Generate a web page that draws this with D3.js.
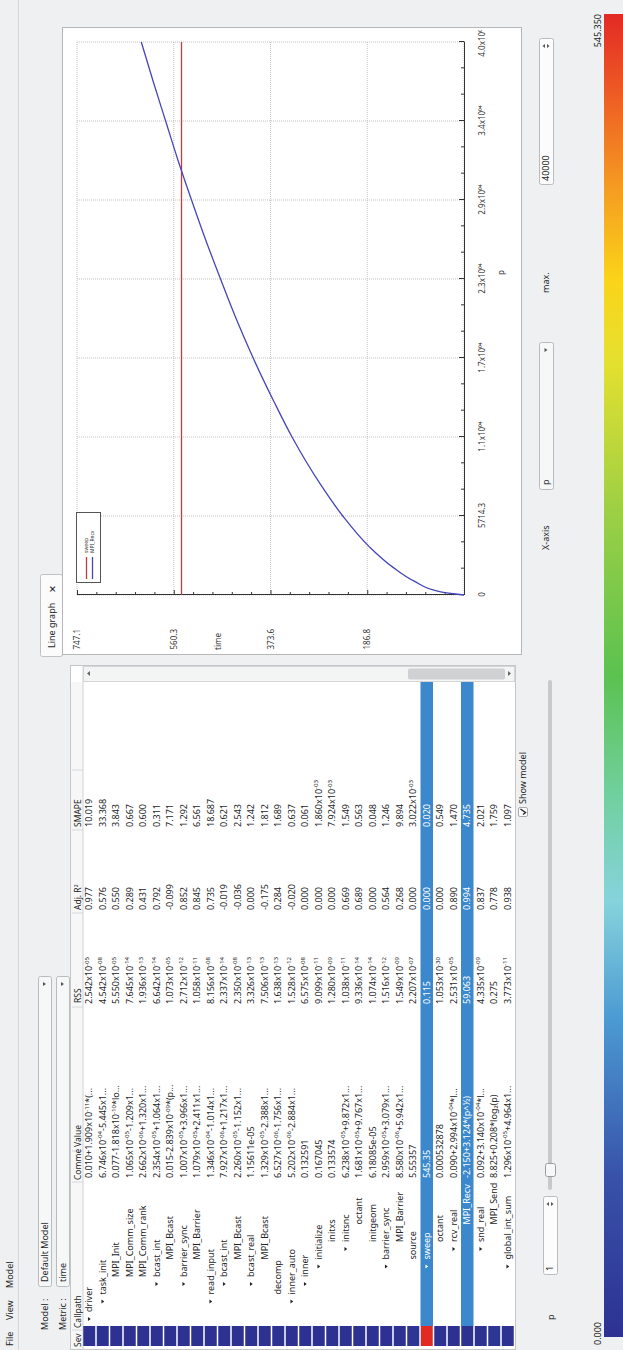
<!DOCTYPE html>
<html>
<head>
<meta charset="utf-8">
<title>Extra-P</title>
<script src="https://cdn.jsdelivr.net/npm/d3@7"></script>
<style>
  body { margin: 0; background: #eff0f1; }
  svg { display: block; font-family: "Noto Sans", "DejaVu Sans", sans-serif; }
</style>
</head>
<body>
<svg id="screen" width="623" height="1350"></svg>
<script>
// call tree in the table
const callpaths = ['driver', 'task_init', 'MPI_Init', 'MPI_Comm_size', 'MPI_Comm_rank', 'bcast_int', 'MPI_Bcast',
  'barrier_sync', 'MPI_Barrier', 'read_input', 'bcast_int', 'MPI_Bcast', 'bcast_real', 'MPI_Bcast', 'decomp',
  'inner_auto', 'inner', 'initialize', 'initxs', 'initsnc', 'octant', 'initgeom', 'barrier_sync', 'MPI_Barrier',
  'source', 'sweep', 'octant', 'rcv_real', 'MPI_Recv', 'snd_real', 'MPI_Send', 'global_int_sum'];
const depths = [0, 1, 2, 2, 2, 2, 3, 2, 3, 1, 2, 3, 2, 3, 1, 1, 2, 3, 4, 4, 5, 4, 3, 4, 3, 3, 4, 4, 5, 4, 5, 3];
const modelValues = ['0.010+1.909x10⁻¹¹*(...', '6.746x10⁻⁰⁴-5.445x1...', '0.077-1.818x10⁻¹⁰*lo...',
  '1.065x10⁻⁰⁵-1.209x1...', '2.662x10⁻⁰⁶+1.320x1...', '2.354x10⁻⁰⁵+1.064x1...', '0.015-2.839x10⁻⁰⁹*(p...',
  '1.007x10⁻⁰⁵+3.966x1...', '1.079x10⁻⁰⁵+2.411x1...', '1.346x10⁻⁰⁴-1.014x1...', '7.927x10⁻⁰⁶+1.217x1...',
  '2.260x10⁻⁰⁵-1.152x1...', '1.15611e-05', '1.329x10⁻⁰⁵-2.388x1...', '6.527x10⁻⁰⁶-1.756x1...',
  '5.202x10⁻⁰⁶-2.884x1...', '0.132591', '0.167045', '0.133574', '6.238x10⁻⁰⁵+9.872x1...',
  '1.681x10⁻⁰⁵+9.767x1...', '6.18085e-05', '2.959x10⁻⁰⁵+3.079x1...', '8.580x10⁻⁰⁶+5.942x1...', '5.55357',
  '545.35', '0.000532878', '0.090+2.994x10⁻⁰⁴*l...', '-2.150+3.124*(p^½)', '0.092+3.140x10⁻⁰⁴*l...',
  '8.825+0.208*log₂(p)', '1.296x10⁻⁰⁵+4.964x1...'];
const rssValues = ['2.542x10⁻⁰⁵', '4.542x10⁻⁰⁸', '5.550x10⁻⁰⁵', '7.645x10⁻¹⁴', '1.936x10⁻¹³', '6.642x10⁻¹⁴',
  '1.073x10⁻⁰⁵', '2.712x10⁻¹²', '1.058x10⁻¹¹', '8.156x10⁻⁰⁸', '2.337x10⁻¹⁴', '2.350x10⁻⁰⁸', '3.326x10⁻¹³',
  '7.506x10⁻¹³', '1.638x10⁻¹³', '1.528x10⁻¹²', '6.575x10⁻⁰⁸', '9.099x10⁻¹¹', '1.280x10⁻⁰⁹', '1.038x10⁻¹¹',
  '9.336x10⁻¹⁴', '1.074x10⁻¹⁴', '1.516x10⁻¹²', '1.549x10⁻⁰⁹', '2.207x10⁻⁰⁷', '0.115', '1.053x10⁻³⁰',
  '2.531x10⁻⁰⁵', '59.063', '4.335x10⁻⁰⁹', '0.275', '3.773x10⁻¹¹'];
const adjR2Values = ['0.977', '0.576', '0.550', '0.289', '0.431', '0.792', '-0.099', '0.852', '0.845', '0.735',
  '-0.019', '-0.036', '0.000', '-0.175', '0.284', '-0.020', '0.000', '0.000', '0.000', '0.669', '0.689', '0.000',
  '0.564', '0.268', '0.000', '0.000', '0.000', '0.890', '0.994', '0.837', '0.778', '0.938'];
const smapeValues = ['10.019', '33.368', '3.843', '0.667', '0.600', '0.311', '7.171', '1.292', '6.561', '18.687',
  '0.621', '2.543', '1.242', '1.812', '1.689', '0.637', '0.061', '1.860x10⁻⁰³', '7.924x10⁻⁰³', '1.549', '0.563',
  '0.048', '1.246', '9.894', '3.022x10⁻⁰³', '0.020', '0.549', '1.470', '4.735', '2.021', '1.759', '1.097'];
const severity = [0.01, 0, 0.08, 0, 0, 0, 0.02, 0, 0, 0, 0, 0, 0, 0, 0, 0, 0.13, 0.17, 0.13, 0, 0, 0, 0, 0,
  5.55, 545.35, 0, 0.09, 1.0, 0.09, 8.8, 0];
const selectedRows = [25, 28];
const headers = ['Sev', 'Callpath', 'Comme', 'Value', 'RSS', 'Adj. R²', 'SMAPE'];

// line graph
const xTickValues = [0, 5714.3, 11428.6, 17142.9, 22857.1, 28571.4, 34285.7, 40000];
const xTickLabels = ['0', '5714.3', '1.1x10⁰⁴', '1.7x10⁰⁴', '2.3x10⁰⁴', '2.9x10⁰⁴', '3.4x10⁰⁴', '4.0x10⁰⁴'];
const yTickValues = [0, 186.8, 373.6, 560.3, 747.1];
const yTickLabels = ['', '186.8', '373.6', '560.3', '747.1'];
const sweepTime = 545.35;
const recvP = [0, 250, 1000, 2000, 3500, 5714, 8000, 11429, 14000, 17143, 20000, 22857, 25714, 28571, 31429,
  34286, 37143, 40000];
const recvTime = [0, 47, 96, 137, 183, 234, 277, 332, 367, 407, 440, 470, 499, 526, 552, 576, 600, 623];
const seriesNames = ['sweep', 'MPI_Recv'];
const colorbarRange = [0.000, 545.350];

const W = 1350, H = 623;   // the screen before it was turned on its side
const svg = d3.select('#screen');
const defs = svg.append('defs');
const root = svg.append('g').attr('transform', 'translate(0,' + W + ') rotate(-90)');
const ink = '#232627';

root.append('rect').attr('width', W).attr('height', H).attr('fill', '#eff0f1');

function label(g, x, y, txt, opts = {}) {
  return g.append('text')
      .attr('x', x).attr('y', y)
      .attr('font-size', opts.size || 9)
      .attr('fill', opts.fill || ink)
      .attr('text-anchor', opts.anchor || 'start')
      .text(txt);
}

// table cells: exponents are drawn as raised small digits, like Qt rich text
const SUP = '⁰¹²³⁴⁵⁶⁷⁸⁹⁻';
function cell(g, x, y, txt, size, fill) {
  const t = g.append('text').attr('x', x).attr('y', y).attr('font-size', size).attr('fill', fill);
  const parts = txt.match(/[⁰¹²³⁴⁵⁶⁷⁸⁹⁻]+|[^⁰¹²³⁴⁵⁶⁷⁸⁹⁻]+/g);
  let raised = false;
  parts.forEach(p => {
    const span = t.append('tspan');
    if (SUP.includes(p[0])) {
      span.attr('font-size', size * 0.68).attr('dy', -size * 0.38)
          .text([...p].map(c => c === '⁻' ? '-' : String(SUP.indexOf(c))).join(''));
      raised = true;
    } else {
      if (raised) span.attr('dy', size * 0.38);
      raised = false;
      span.text(p);
    }
  });
  return t;
}

function combo(x, y, w, h, txt) {
  root.append('rect').attr('x', x + 0.5).attr('y', y + 0.5).attr('width', w).attr('height', h)
      .attr('rx', 2).attr('fill', '#f6f7f7').attr('stroke', '#b9bcbe');
  label(root, x + 5, y + h / 2 + 3.2, txt);
  root.append('path')
      .attr('d', `M${x + w - 9},${y + h / 2 - 1.5}l4,0l-2,3z`)
      .attr('fill', '#555');
}

function spin(x, y, w, h, txt) {
  root.append('rect').attr('x', x + 0.5).attr('y', y + 0.5).attr('width', w).attr('height', h)
      .attr('rx', 2).attr('fill', '#fcfcfc').attr('stroke', '#b9bcbe');
  label(root, x + 4, y + h / 2 + 3.2, txt);
  const ax = x + w - 7;
  root.append('path').attr('d', `M${ax - 2},${y + h / 2 - 1}l2,-2.5l2,2.5z M${ax - 2},${y + h / 2 + 1}l2,2.5l2,-2.5z`)
      .attr('fill', '#555');
}

// menu bar
root.append('line').attr('x1', 0).attr('x2', W).attr('y1', 18.5).attr('y2', 18.5).attr('stroke', '#d6d8da');
label(root, 4, 13, 'File');
label(root, 30, 13, 'View');
label(root, 62, 13, 'Model');

// model / metric selectors
label(root, 20, 48, 'Model :');
combo(63, 38, 310, 13, 'Default Model');
label(root, 20, 66, 'Metric :');
combo(63, 56, 310, 13, 'time');

// table
const table = root.append('g');
table.append('rect').attr('x', 0.5).attr('y', 70.5).attr('width', 684).attr('height', 445)
    .attr('fill', '#fff').attr('stroke', '#c4c6c8');
table.append('rect').attr('x', 1).attr('y', 71).attr('width', 667).attr('height', 12).attr('fill', '#f7f7f7');
table.append('line').attr('x1', 1).attr('x2', 684).attr('y1', 83).attr('y2', 83).attr('stroke', '#d0d2d4');
const headerX = [3, 22, 170, 203, 347, 440, 523];
const sepX = [20, 168, 199, 343, 437, 520, 580];
sepX.forEach(x => table.append('line').attr('x1', x).attr('x2', x).attr('y1', 72).attr('y2', 83)
    .attr('stroke', '#d6d8da'));
headers.forEach((h, i) => label(table, headerX[i], 80.5, h, {size: 8.5}));

// the callpath column cuts long names at its right edge
defs.append('clipPath').attr('id', 'pathcol').append('rect')
    .attr('x', 0).attr('y', 0).attr('width', 168).attr('height', 14);

const rowY = d3.scaleBand().domain(d3.range(callpaths.length)).range([82.5, 82.5 + 13.5 * callpaths.length]);
const sevColor = d3.scaleLinear()
    .domain([0, 0.12, 0.24, 0.33, 0.41, 0.5, 0.62, 0.74, 0.8, 0.87, 0.94, 1].map(t => t * colorbarRange[1]))
    .range(['#2d3292', '#3851a9', '#4b9ad3', '#86d3dc', '#70d09e', '#5bc250', '#9acf45', '#e6e02e', '#fbd319',
      '#f59a22', '#ee5b24', '#e22a25']);

const rows = table.selectAll('g.row')
    .data(callpaths)
    .enter()
    .append('g')
    .attr('class', 'row')
    .attr('transform', (d, i) => 'translate(0,' + rowY(i) + ')');

rows.filter((d, i) => selectedRows.includes(i))
    .append('rect').attr('x', 24).attr('y', 0.5).attr('width', 644).attr('height', rowY.bandwidth() - 1)
    .attr('fill', '#3b88cc');
rows.append('rect')
    .attr('x', 4).attr('y', 0.75).attr('width', 20).attr('height', rowY.bandwidth() - 1.5)
    .attr('fill', (d, i) => sevColor(severity[i]));

const textX = i => 38 + 17.5 * depths[i];
const hasKids = i => i === callpaths.length - 1 || depths[i + 1] > depths[i];
const rowInk = i => selectedRows.includes(i) ? '#fff' : ink;
const fs = 9;

rows.each(function (d, i) {
  const g = d3.select(this);
  const cy = rowY.bandwidth() / 2;
  if (hasKids(i)) {
    g.append('path').attr('d', `M${textX(i) - 9},${cy - 1.3}l4,0l-2,2.8z`).attr('fill', rowInk(i));
  }
  label(g, textX(i), 9.8, d, {size: fs, fill: rowInk(i)}).attr('clip-path', 'url(#pathcol)');
  cell(g, 172, 9.8, modelValues[i], fs, rowInk(i));
  cell(g, 346, 9.8, rssValues[i], fs, rowInk(i));
  cell(g, 440, 9.8, adjR2Values[i], fs, rowInk(i));
  cell(g, 523, 9.8, smapeValues[i], fs, rowInk(i));
});

// vertical scrollbar of the table
table.append('rect').attr('x', 668.5).attr('y', 83.5).attr('width', 15).attr('height', 431)
    .attr('fill', '#f3f4f4').attr('stroke', '#d3d5d7');
table.append('rect').attr('x', 670.5).attr('y', 408).attr('width', 11).attr('height', 97)
    .attr('rx', 2).attr('fill', '#cfd1d3');
table.append('path').attr('d', 'M674,90l2.5,-3l2.5,3z M674,508l2.5,3l2.5,-3z').attr('fill', '#666');

// show model check box
root.append('rect').attr('x', 533.5).attr('y', 518.5).attr('width', 9).attr('height', 9).attr('rx', 1.5)
    .attr('fill', '#fcfcfc').attr('stroke', '#aaa');
root.append('path').attr('d', 'M535.5,523l2,2.5l3.5,-5').attr('fill', 'none').attr('stroke', ink).attr('stroke-width', 1.4);
label(root, 546, 526, 'Show model');

// p slider
label(root, 30, 554, 'p');
spin(75, 543, 78, 14, '1');
root.append('rect').attr('x', 160).attr('y', 548).attr('width', 510).attr('height', 4).attr('rx', 2)
    .attr('fill', '#c7c9cb');
root.append('rect').attr('x', 173.5).attr('y', 545.5).attr('width', 13).attr('height', 10).attr('rx', 2)
    .attr('fill', '#f8f8f8').attr('stroke', '#9a9c9e');

// colour bar
const grad = defs.append('linearGradient').attr('id', 'sevbar');
grad.selectAll('stop')
    .data(sevColor.domain())
    .enter()
    .append('stop')
    .attr('offset', d => d / colorbarRange[1])
    .attr('stop-color', d => sevColor(d));
root.append('rect').attr('x', 13).attr('y', 604).attr('width', 1323).attr('height', 19).attr('fill', 'url(#sevbar)');
label(root, 5, 601, colorbarRange[0].toFixed(3));
label(root, 1336, 601, colorbarRange[1].toFixed(3), {anchor: 'end'});

// line graph tab and frame
root.append('rect').attr('x', 693.5).attr('y', 40.5).attr('width', 82).attr('height', 22).attr('rx', 2)
    .attr('fill', '#fbfbfb').attr('stroke', '#bfc1c3');
label(root, 702, 55, 'Line graph');
label(root, 757, 55.5, '✕', {size: 9.5}).attr('font-weight', 'bold');
root.append('rect').attr('x', 695.5).attr('y', 62.5).attr('width', 627).attr('height', 459)
    .attr('fill', '#fff').attr('stroke', '#b5b7b9');

defs.append('clipPath').attr('id', 'frame').append('rect')
    .attr('x', 696).attr('y', 63).attr('width', 624).attr('height', 458);
const chart = root.append('g').attr('clip-path', 'url(#frame)');

const x = d3.scaleLinear().domain([0, 40000]).range([755, 1308]);
const y = d3.scaleLinear().domain([0, 747.1]).range([464, 77]);

// dotted grid
chart.append('g').selectAll('line')
    .data(xTickValues)
    .enter()
    .append('line')
    .attr('x1', d => x(d)).attr('x2', d => x(d))
    .attr('y1', y(0)).attr('y2', y(747.1))
    .attr('stroke', '#c3c3c3').attr('stroke-dasharray', '1,1');
chart.append('g').selectAll('line')
    .data(yTickValues)
    .enter()
    .append('line')
    .attr('x1', x(0)).attr('x2', x(40000))
    .attr('y1', d => y(d)).attr('y2', d => y(d))
    .attr('stroke', '#c3c3c3').attr('stroke-dasharray', '1,1');

// minor ticks
const minorX = [];
xTickValues.slice(1).forEach((v, i) => [1, 2].forEach(k => minorX.push(xTickValues[i] + (v - xTickValues[i]) * k / 3)));
const minorY = [];
yTickValues.slice(1).forEach((v, i) => [1, 2, 3, 4].forEach(k => minorY.push(yTickValues[i] + (v - yTickValues[i]) * k / 5)));
chart.append('g')
    .attr('transform', 'translate(0,' + y(0) + ')')
    .call(d3.axisBottom(x).tickValues(minorX).tickFormat('').tickSizeInner(-3).tickSizeOuter(0))
    .call(g => g.select('.domain').remove());
chart.append('g')
    .attr('transform', 'translate(' + x(0) + ',0)')
    .call(d3.axisLeft(y).tickValues(minorY).tickFormat('').tickSizeInner(-3).tickSizeOuter(0))
    .call(g => g.select('.domain').remove());

// major axes
const xAxis = chart.append('g')
    .attr('transform', 'translate(0,' + y(0) + ')')
    .call(d3.axisBottom(x).tickValues(xTickValues).tickFormat((d, i) => xTickLabels[i])
        .tickSizeInner(-5).tickSizeOuter(0).tickPadding(15));
const yAxis = chart.append('g')
    .attr('transform', 'translate(' + x(0) + ',0)')
    .call(d3.axisLeft(y).tickValues(yTickValues).tickFormat((d, i) => yTickLabels[i])
        .tickSizeInner(-5).tickSizeOuter(0).tickPadding(34));
[xAxis, yAxis].forEach(a => {
  a.attr('font-family', null);
  a.selectAll('text').attr('font-size', 8).attr('fill', '#333');
  a.selectAll('line').attr('stroke', '#333');
  a.select('.domain').attr('stroke', '#333');
});
chart.selectAll('.tick line').attr('stroke', '#333');

label(chart, 700, 221, 'time', {size: 8, fill: '#333'});
label(chart, 1075, 504, 'p', {size: 8, fill: '#333'});

// series
const line = d3.line().x(d => x(d[0])).y(d => y(d[1]));
chart.append('path')
    .datum([[0, sweepTime], [40000, sweepTime]])
    .attr('d', line)
    .attr('fill', 'none').attr('stroke', '#c43b3b').attr('stroke-width', 1.3);
chart.append('path')
    .datum(recvP.map((p, i) => [p, recvTime[i]]))
    .attr('d', line.curve(d3.curveMonotoneX))
    .attr('fill', 'none').attr('stroke', '#4646b8').attr('stroke-width', 1.3);

// legend
const seriesColors = ['#c43b3b', '#4646b8'];
const legend = chart.append('g');
legend.append('rect').attr('x', 767.5).attr('y', 76.5).attr('width', 70).attr('height', 24)
    .attr('fill', '#fff').attr('stroke', '#555');
seriesNames.forEach((s, i) => {
  legend.append('line').attr('x1', 771).attr('x2', 793).attr('y1', 86.5 + 6 * i).attr('y2', 86.5 + 6 * i)
      .attr('stroke', seriesColors[i]).attr('stroke-width', 1.3);
  label(legend, 797, 88.3 + 6 * i, s, {size: 5, fill: '#333'});
});

// x-axis chooser below the graph
label(root, 800, 549, 'X-axis');
combo(860, 539, 147, 14, 'p');
label(root, 1057, 549, 'max.');
spin(1165, 539, 146, 14, '40000');
</script>
</body>
</html>
